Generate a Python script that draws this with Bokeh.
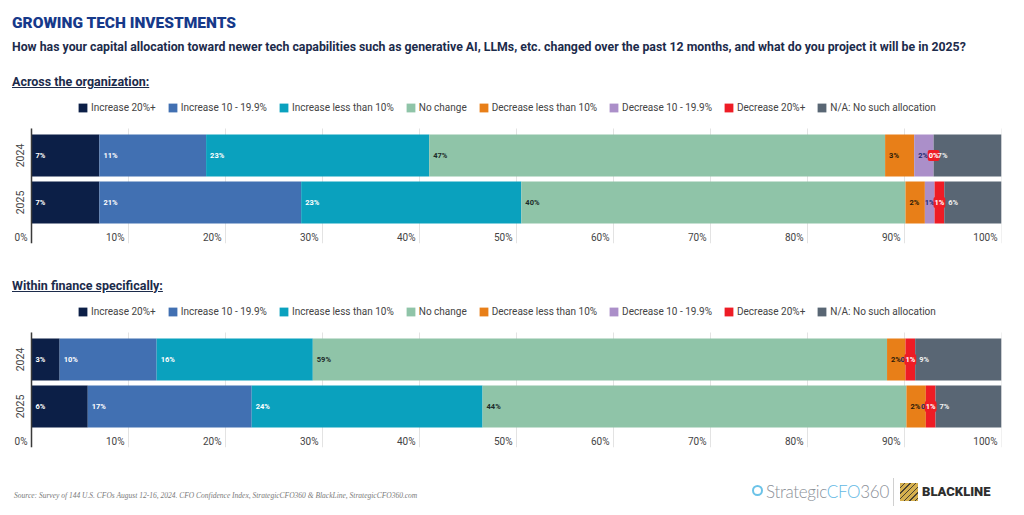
from bokeh.plotting import figure
from bokeh.models import ColumnDataSource, Range1d, FixedTicker, Legend, LegendItem, Div
from bokeh.layouts import column
from bokeh.embed import file_html
from bokeh.resources import INLINE
from bokeh.core.properties import value

# ---------------- data ----------------
categories = ["Increase 20%+", "Increase 10 - 19.9%", "Increase less than 10%", "No change",
              "Decrease less than 10%", "Decrease 10 - 19.9%", "Decrease 20%+",
              "N/A: No such allocation"]
years = ["2024", "2025"]

org_2024 = [7.0, 11.0, 23.0, 47.0, 3.0, 2.0, 0.0, 7.0]
org_2025 = [7.0, 20.8, 22.7, 39.6, 2.0, 1.0, 1.0, 5.9]
fin_2024 = [2.9, 10.0, 16.1, 59.2, 1.9, 0.0, 1.0, 8.9]
fin_2025 = [5.8, 16.9, 23.8, 43.7, 2.0, 0.0, 1.0, 6.8]

tick_values = [0, 10, 20, 30, 40, 50, 60, 70, 80, 90, 100]
tick_labels = ["0%", "10%", "20%", "30%", "40%", "50%", "60%", "70%", "80%", "90%", "100%"]

# ---------------- styles / layout ----------------
colors = ["#0c1f47", "#4170b2", "#0aa1be", "#8fc4a8", "#e87f18", "#ab8fc9", "#ee1c25", "#596674"]
label_colors = ["#ffffff", "#ffffff", "#ffffff", "#1d2b2a", "#2a1a08", "#1e2a6e", "#ffffff", "#f2f2f2"]
FONT = "Roboto"
W = 1016
FRAME_L = 4          # frame left edge (px); the value axis starts further right
AXIS_X = 31          # page x of 0%
FRAME_R = 1001       # page x of 100%
PX_PER_UNIT = (FRAME_R - AXIS_X) / 100.0
X0 = -(AXIS_X - FRAME_L) / PX_PER_UNIT
PLOT_H = 115     # height of the bar area (data units == px)
TOP_H = 33       # legend band above the bars
bar_centers = [27, 74]
BAR_H = 42
TICK_LABEL_Y = 109


def make_chart(d24, d25):
    p = figure(width=W, height=160, x_range=Range1d(X0, 100), y_range=Range1d(PLOT_H, -TOP_H),
               output_backend="svg", toolbar_location=None, x_axis_location=None,
               min_border_left=FRAME_L, min_border_right=W - FRAME_R, min_border_top=0,
               min_border_bottom=12)
    p.outline_line_color = None
    p.xgrid.visible = False
    p.ygrid.visible = False

    # vertical grid lines, only over the bar area
    p.segment(x0=tick_values, x1=tick_values, y0=0, y1=PLOT_H, line_color="#e3e3e3", line_width=1)

    yax = p.yaxis[0]
    yax.fixed_location = 0
    yax.bounds = (0, PLOT_H)
    yax.ticker = FixedTicker(ticks=bar_centers)
    yax.major_label_overrides = {c: y for c, y in zip(bar_centers, years)}
    yax.major_label_orientation = "vertical"
    yax.major_tick_line_color = None
    yax.major_tick_out = 0
    yax.major_tick_in = 0
    yax.minor_tick_line_color = None
    yax.axis_line_color = "#3a3a3a"
    yax.axis_line_width = 1.5
    yax.major_label_standoff = 8
    yax.major_label_text_font = FONT
    yax.major_label_text_font_size = "10.5px"
    yax.major_label_text_color = "#444444"

    rows = [d24, d25]
    renderers = []
    for i, cat in enumerate(categories):
        lefts = [sum(d[:i]) for d in rows]
        rights = [l + d[i] for l, d in zip(lefts, rows)]
        src = ColumnDataSource(dict(y=bar_centers, left=lefts, right=rights))
        r = p.hbar(y="y", left="left", right="right", height=BAR_H, source=src,
                   fill_color=colors[i], line_color=None)
        renderers.append(r)

    # segment labels
    for i, cat in enumerate(categories):
        wide = dict(x=[], y=[], t=[])
        narrow = dict(x=[], y=[], t=[])
        for yc, d in zip(bar_centers, rows):
            left = sum(d[:i])
            txt = f"{round(d[i]):d}%"
            if d[i] >= 1.5:
                wide["x"].append(left); wide["y"].append(yc); wide["t"].append(txt)
            else:
                narrow["x"].append(left + d[i] / 2); narrow["y"].append(yc); narrow["t"].append(txt)
        extra = {}
        if i == 6:
            extra = dict(background_fill_color=colors[6], padding=1, border_radius=2)
        if wide["x"]:
            p.text(x="x", y="y", text="t", source=ColumnDataSource(wide), x_offset=4,
                   text_align="left", text_baseline="middle", text_font=value(FONT),
                   text_font_style="bold", text_font_size="7.5px", text_color=label_colors[i], **extra)
        if narrow["x"]:
            p.text(x="x", y="y", text="t", source=ColumnDataSource(narrow),
                   text_align="center", text_baseline="middle", text_font=value(FONT),
                   text_font_style="bold", text_font_size="7.5px", text_color=label_colors[i], **extra)

    # x tick labels (right aligned to the grid lines, as in the original)
    p.text(x=tick_values, y=TICK_LABEL_Y, text=tick_labels, x_offset=-4,
           text_align="right", text_baseline="middle", text_font=value(FONT),
           text_font_size="10px", text_color="#444444")

    legend = Legend(items=[LegendItem(label=c, renderers=[r]) for c, r in zip(categories, renderers)],
                    orientation="horizontal", location=(77 - FRAME_L, 130), glyph_width=11,
                    glyph_height=11, label_standoff=3, spacing=11, padding=0, margin=0,
                    border_line_color=None, background_fill_alpha=0,
                    label_text_font=FONT, label_text_font_size="10px",
                    label_text_color="#444444", label_height=11)
    p.add_layout(legend)
    return p


p1 = make_chart(org_2024, org_2025)
p2 = make_chart(fin_2024, fin_2025)

HEAD = "color:#1c2b4b;font-family:Roboto;font-weight:700;"
header = Div(width=W, height=95, margin=0, text=f"""
<div style="position:relative;width:{W}px;height:95px;">
  <div style="position:absolute;left:12px;top:15px;font-family:Roboto;font-weight:900;font-size:15.5px;line-height:16px;color:#16398a;white-space:nowrap;">GROWING TECH INVESTMENTS</div>
  <div style="position:absolute;left:12px;top:40px;{HEAD}font-size:12.3px;line-height:14px;white-space:nowrap;">How has your capital allocation toward newer tech capabilities such as generative AI, LLMs, etc. changed over the past 12 months, and what do you project it will be in 2025?</div>
  <div style="position:absolute;left:12px;top:75px;{HEAD}font-size:12.5px;line-height:14px;text-decoration:underline;white-space:nowrap;">Across the organization:</div>
</div>""")

mid = Div(width=W, height=44, margin=0, text=f"""
<div style="position:relative;width:{W}px;height:44px;">
  <div style="position:absolute;left:12px;top:24px;{HEAD}font-size:12.5px;line-height:14px;text-decoration:underline;white-space:nowrap;">Within finance specifically:</div>
</div>""")

footer = Div(width=W, height=56, margin=0, text=f"""
<div style="position:relative;width:{W}px;height:56px;">
  <div style="position:absolute;left:14px;top:32px;font-family:'Liberation Serif';font-style:italic;font-size:7.5px;line-height:9px;color:#7a7a7a;white-space:nowrap;">Source: Survey of 144 U.S. CFOs August 12-16, 2024. CFO Confidence Index, StrategicCFO360 &amp; BlackLine, StrategicCFO360.com</div>
  <div style="position:absolute;left:752px;top:26px;width:11px;height:11px;border:2px solid #6cc3e8;border-radius:50%;"></div>
  <div style="position:absolute;left:766px;top:24px;font-family:Lato;font-weight:300;font-size:17px;line-height:18px;white-space:nowrap;letter-spacing:-0.3px;"><span style="color:#8b9097;">Strategic</span><span style="color:#62b8e4;">CFO</span><span style="color:#8b9097;">360</span></div>
  <div style="position:absolute;left:893px;top:19px;width:1px;height:28px;background:#d0d0d0;"></div>
  <div style="position:absolute;left:900px;top:24px;width:18px;height:18px;background:repeating-linear-gradient(135deg,#d6b04e 0px,#d6b04e 3px,#4a4232 3px,#4a4232 4px);"></div>
  <div style="position:absolute;left:922px;top:26px;font-family:Roboto;font-weight:900;font-size:13px;line-height:14px;color:#2e2e2e;white-space:nowrap;">BLACKLINE</div>
</div>""")

layout = column(header, p1, mid, p2, footer, spacing=0)
open("out.html", "w").write(file_html(layout, INLINE))
